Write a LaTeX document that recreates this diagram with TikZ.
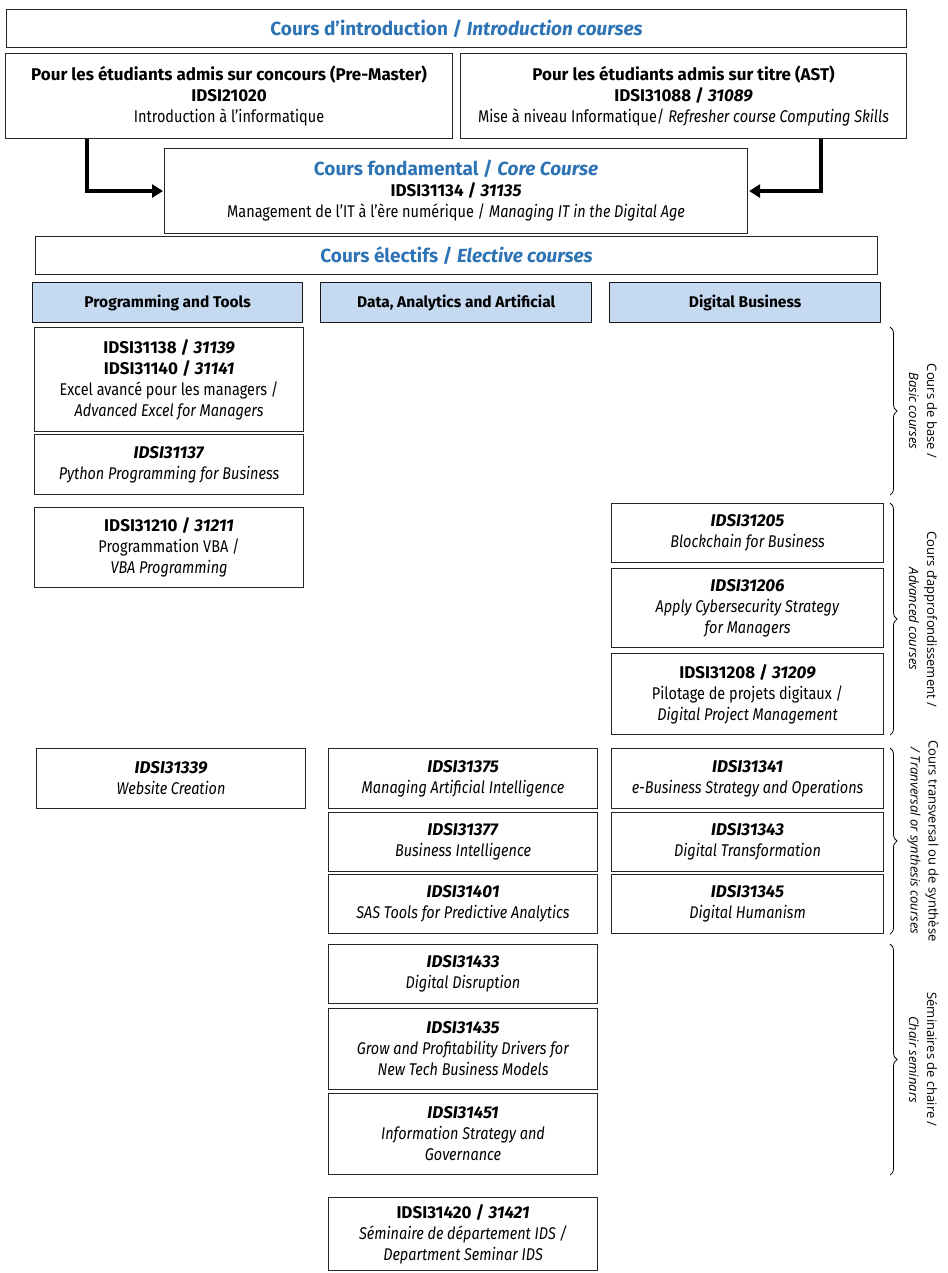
\documentclass[tikz,border=0pt]{standalone}
\usepackage{fontspec}
\setmainfont{Fira Sans}[UprightFeatures={FakeStretch=0.85}, ItalicFeatures={FakeStretch=0.85}]
\newfontfamily\sidefont{Open Sans}
\usepackage{tikz}
\usetikzlibrary{arrows.meta,positioning,decorations.pathreplacing}
\definecolor{titleblue}{RGB}{46,116,181}
\definecolor{headfill}{RGB}{197,217,241}
\newcommand{\blu}{\textcolor{titleblue}}
\tikzset{
  cbox/.style={draw=black!85, line width=1.1pt, align=center, anchor=north west,
    inner sep=0pt, font=\fontsize{17}{21}\selectfont},
  hbox/.style={cbox, draw=black!90, line width=1.3pt, fill=headfill, font=\fontsize{15.5}{18}\selectfont\bfseries},
  flow/.style={line width=4pt, -{Triangle[length=11pt,width=13pt]}, shorten >=1pt},
  grp/.style={decorate, decoration={brace, amplitude=7pt}, line width=0.8pt},
  grplabel/.style={rotate=-90, align=center, font=\sidefont\fontsize{13}{18}\selectfont}
}

\begin{document}
\begin{tikzpicture}[x=1pt,y=-1pt]
  \useasboundingbox (0,0) rectangle (947,1273);
  % introduction and core course
  \node[cbox, minimum width=900pt, minimum height=38pt, font=\fontsize{19}{22}\selectfont] (intro) at (6,9)
    {\blu{\textbf{Cours d’introduction / \textit{Introduction courses}}}};
  \node[cbox, minimum width=447pt, minimum height=85pt] (introL) at (5,53)
    {\textbf{Pour les étudiants admis sur concours (Pre-Master)}\\ \textbf{IDSI21020}\\ Introduction à l’informatique};
  \node[cbox, minimum width=446pt, minimum height=85pt] (introR) at (460,53)
    {\textbf{Pour les étudiants admis sur titre (AST)}\\ \textbf{IDSI31088 / \textit{31089}}\\ Mise à niveau Informatique/ \textit{Refresher course Computing Skills}};
  \node[cbox, minimum width=583pt, minimum height=85pt] (core) at (164,148)
    {{\fontsize{19}{22}\selectfont\blu{\textbf{Cours fondamental / \textit{Core Course}}}}\\ \textbf{IDSI31134 / \textit{31135}}\\ Management de l’IT à l’ère numérique / \textit{Managing IT in the Digital Age}};
  \coordinate (ax) at (87,0);
  \coordinate (bx) at (821,0);
  \draw[flow] (introL.south -| ax) |- (core.west);
  \draw[flow] (introR.south -| bx) |- (core.east);

  % elective courses
  \node[cbox, minimum width=842pt, minimum height=38pt, font=\fontsize{19}{22}\selectfont] (elect) at (35,236)
    {\blu{\textbf{Cours électifs / \textit{Elective courses}}}};
  \node[hbox, minimum width=270pt, minimum height=40pt] (hprog) at (32,282) {Programming and Tools};
  \node[hbox, minimum width=271pt, minimum height=40pt] (hdata) at (320,282) {Data, Analytics and Artificial};
  \node[hbox, minimum width=271pt, minimum height=40pt] (hdig) at (609,282) {Digital Business};

  % programming and tools
  \node[cbox, minimum width=269pt, minimum height=104pt] (p1) at (34,327)
    {\textbf{IDSI31138 / \textit{31139}}\\ \textbf{IDSI31140 / \textit{31141}}\\ Excel avancé pour les managers /\\ \textit{Advanced Excel for Managers}};
  \node[cbox, minimum width=269pt, minimum height=60pt] (p2) at (34,434)
    {\textbf{\textit{IDSI31137}}\\ \textit{Python Programming for Business}};
  \node[cbox, minimum width=269pt, minimum height=80pt] (p3) at (34,507)
    {\textbf{IDSI31210 / \textit{31211}}\\ Programmation VBA /\\ \textit{VBA Programming}};
  \node[cbox, minimum width=269pt, minimum height=60pt] (p4) at (36,748)
    {\textbf{\textit{IDSI31339}}\\ \textit{Website Creation}};

  % data, analytics and AI
  \node[cbox, minimum width=269pt, minimum height=60pt] (d1) at (328,748)
    {\textbf{\textit{IDSI31375}}\\ \textit{Managing Artificial Intelligence}};
  \node[cbox, minimum width=269pt, minimum height=59pt] (d2) at (328,812)
    {\textbf{\textit{IDSI31377}}\\ \textit{Business Intelligence}};
  \node[cbox, minimum width=269pt, minimum height=59pt] (d3) at (328,874)
    {\textbf{\textit{IDSI31401}}\\ \textit{SAS Tools for Predictive Analytics}};
  \node[cbox, minimum width=269pt, minimum height=59pt] (d4) at (328,944)
    {\textbf{\textit{IDSI31433}}\\ \textit{Digital Disruption}};
  \node[cbox, minimum width=269pt, minimum height=81pt] (d5) at (328,1008)
    {\textbf{\textit{IDSI31435}}\\ \textit{Grow and Profitability Drivers for}\\ \textit{New Tech Business Models}};
  \node[cbox, minimum width=269pt, minimum height=81pt] (d6) at (328,1093)
    {\textbf{\textit{IDSI31451}}\\ \textit{Information Strategy and}\\ \textit{Governance}};
  \node[cbox, minimum width=269pt, minimum height=73pt] (d7) at (328,1197)
    {\textbf{IDSI31420 / \textit{31421}}\\ \textit{Séminaire de département IDS /}\\ \textit{Department Seminar IDS}};

  % digital business
  \node[cbox, minimum width=272pt, minimum height=59pt] (b1) at (611,503)
    {\textbf{\textit{IDSI31205}}\\ \textit{Blockchain for Business}};
  \node[cbox, minimum width=272pt, minimum height=79pt] (b2) at (611,568)
    {\textbf{\textit{IDSI31206}}\\ \textit{Apply Cybersecurity Strategy}\\ \textit{for Managers}};
  \node[cbox, minimum width=272pt, minimum height=81pt] (b3) at (611,653)
    {\textbf{IDSI31208 / \textit{31209}}\\ Pilotage de projets digitaux /\\ \textit{Digital Project Management}};
  \node[cbox, minimum width=272pt, minimum height=60pt] (b4) at (611,748)
    {\textbf{\textit{IDSI31341}}\\ \textit{e-Business Strategy and Operations}};
  \node[cbox, minimum width=272pt, minimum height=59pt] (b5) at (611,812)
    {\textbf{\textit{IDSI31343}}\\ \textit{Digital Transformation}};
  \node[cbox, minimum width=272pt, minimum height=59pt] (b6) at (611,874)
    {\textbf{\textit{IDSI31345}}\\ \textit{Digital Humanism}};

  % braces on the right
  \coordinate (gx) at (890,0);
  \draw[grp] (p1.north -| gx) -- (p2.south -| gx)
    node[midway, xshift=33pt, grplabel] {Cours de base /\\ \textit{Basic courses}};
  \draw[grp] (b1.north -| gx) -- (b3.south -| gx)
    node[midway, xshift=33pt, grplabel] {Cours d’approfondissement /\\ \textit{Advanced courses}};
  \draw[grp] (b4.north -| gx) -- (b6.south -| gx)
    node[midway, xshift=33pt, grplabel] {Cours transversal ou de synthèse\\ \textit{/ Tranversal or synthesis courses}};
  \draw[grp] (d4.north -| gx) -- (d6.south -| gx)
    node[midway, xshift=33pt, grplabel] {Séminaires de chaire /\\ \textit{Chair seminars}};
\end{tikzpicture}
\end{document}
